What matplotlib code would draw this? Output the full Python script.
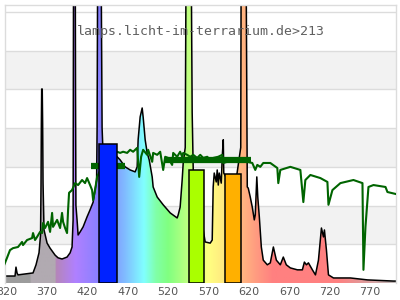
import numpy as np
import matplotlib
matplotlib.use("Agg")
import matplotlib.pyplot as plt
from matplotlib.colors import to_rgb

# lamp spectrum (black outline), wavelength in nm / relative value
spec_wl = [318, 330.4, 331.6, 332.9, 334.1, 352.7, 356.4, 360.1, 362.0, 362.6,
           363.0, 363.4, 364.1, 364.6, 365.1, 366.3, 370.1, 373.8, 380.0, 383.7,
           388.6, 394.8, 398.6, 401.0, 402.3, 402.6, 403.0, 404.8, 405.3, 405.8,
           407.2, 408.5, 411.0, 414.7, 419.6, 423.3, 427.1, 429.5, 431.4, 432.0,
           433.0, 436.5, 438.2, 440.0, 450.0, 456.8, 460.5, 466.7, 472.9, 479.1,
           481.6, 482.8, 485.3, 487.8, 489.0, 491.5, 494.0, 496.5, 500.2, 501.4,
           506.4, 513.8, 522.5, 531.1, 532.4, 534.8, 537.3, 538.6, 541.1, 542.5,
           548.0, 549.7, 551.0, 565.8, 572.0, 574.5, 575.7, 577.0, 579.5, 580.7,
           582.0, 583.2, 585.7, 586.9, 588.2, 588.8, 595.0, 605.0, 609.8, 610.5,
           616.0, 617.3, 617.9, 619.1, 621.6, 624.1, 626.6, 627.8, 629.7, 630.9,
           632.8, 635.3, 637.7, 642.7, 646.4, 650.2, 653.9, 658.8, 662.5, 666.2,
           671.2, 679.9, 686.1, 688.6, 691.1, 693.6, 698.5, 702.3, 706.0, 709.7,
           712.2, 713.4, 715.9, 718.4, 724.6, 745.6, 766.7, 798.9, 802.6]
spec_val = [0.18, 0.18, 0.41, 0.26, 0.21, 0.26, 0.47, 0.78, 1.24, 2.58,
            4.11, 5.01, 5.01, 4.11, 2.58, 1.37, 1.03, 0.90, 0.72, 0.65,
            0.62, 0.67, 0.78, 0.93, 1.63, 5.5, 10, 10, 5.0, 2.0,
            1.63, 1.24, 1.32, 1.45, 1.71, 1.89, 2.09, 2.40, 2.66, 4.0,
            10, 10, 4.0, 3.0, 3.1, 3.26, 3.18, 3.00, 2.92, 2.87,
            3.00, 3.70, 4.29, 4.52, 4.29, 3.70, 3.36, 3.18, 2.74, 2.48,
            2.22, 2.02, 1.81, 1.68, 1.76, 1.96, 2.66, 3.10, 3.5, 10,
            10, 4.4, 2.92, 1.06, 1.03, 1.11, 2.48, 2.84, 2.61, 2.92,
            2.53, 2.84, 2.58, 3.26, 3.70, 2.84, 2.6, 2.8, 3.5, 10,
            10, 4.9, 2.48, 2.45, 2.22, 1.96, 1.63, 1.76, 2.74, 2.22,
            1.71, 0.93, 0.59, 0.47, 0.52, 0.93, 0.59, 0.47, 0.67, 0.47,
            0.39, 0.34, 0.34, 0.54, 0.47, 0.52, 0.34, 0.21, 0.59, 1.42,
            1.19, 1.37, 0.85, 0.21, 0.13, 0.13, 0.08, 0.05, 0.05]

# sunlight reference (green line)
sun_wl = [311.8, 315.5, 320.5, 324.2, 327.9, 334.1, 339.1, 340.3, 345.3, 351.5,
          352.7, 355.2, 357.7, 361.4, 363.9, 365.1, 367.6, 371.3, 373.8, 376.3,
          377.5, 382.5, 386.2, 388.6, 389.9, 392.4, 394.8, 396.1, 397.3, 401.0,
          404.8, 408.5, 413.4, 417.1, 419.6, 423.3, 425.8, 427.1, 429.5, 432.0,
          441.9, 450.6, 456.8, 460.5, 464.2, 469.2, 472.9, 476.6, 481.6, 484.1,
          486.5, 489.0, 494.0, 495.2, 500.2, 501.4, 506.4, 510.1, 513.8, 516.3,
          520.0, 524.9, 526.2, 531.1, 534.8, 537.3, 538.6, 543.5, 547.3, 551.0,
          555.9, 559.7, 563.4, 568.3, 572.0, 575.7, 581.9, 586.9, 588.2, 593.1,
          600.5, 609.2, 617.9, 624.1, 627.8, 630.3, 634.0, 637.7, 642.7, 646.4,
          655.1, 656.3, 658.8, 671.2, 683.6, 687.3, 689.8, 696.0, 708.4, 717.1,
          718.4, 723.3, 733.2, 749.3, 760.5, 761.7, 764.2, 767.9, 774.1, 789.0,
          791.4, 807.5]
sun_val = [0.26, 0.39, 0.65, 0.85, 0.90, 0.93, 1.06, 0.98, 1.11, 1.16,
           1.29, 1.11, 1.19, 1.32, 1.29, 1.55, 1.42, 1.58, 1.32, 1.81,
           1.45, 1.63, 1.42, 1.81, 1.58, 1.42, 1.29, 1.89, 2.33, 2.40,
           2.58, 2.53, 2.66, 2.58, 2.71, 2.53, 2.40, 2.14, 2.40, 2.74,
           3.18, 3.31, 3.39, 3.36, 3.39, 3.36, 3.44, 3.39, 3.49, 2.74,
           3.26, 3.44, 3.31, 3.44, 3.13, 3.36, 3.31, 3.39, 2.92, 3.26,
           3.23, 3.05, 3.36, 3.26, 3.39, 3.26, 3.36, 3.31, 3.26, 3.31,
           3.23, 3.31, 3.23, 3.26, 3.18, 3.23, 3.26, 3.31, 3.10, 3.13,
           3.13, 3.13, 3.13, 3.10, 2.92, 3.05, 3.00, 3.10, 3.10, 3.10,
           2.97, 2.58, 2.92, 3.00, 2.92, 2.09, 2.66, 2.79, 2.71, 2.61,
           2.02, 2.40, 2.58, 2.66, 2.58, 0.34, 1.45, 2.48, 2.53, 2.48,
           2.35, 2.27]

# thick green band averages
avg_start = [424.6, 516.0]
avg_end = [466.2, 622.0]
avg_val = [3.02, 3.18]

# colored band bars
bar_start = [434.9, 545.2, 590.2]
bar_end = [456.4, 564.6, 609.6]
bar_val = [3.59, 2.92, 2.82]
bar_colors = ["#0022ff", "#aaff00", "#ffb000"]

tick_wl = [320, 370, 420, 470, 520, 570, 620, 670, 720, 770]
label = "lamps.licht-im-terrarium.de>213"

# fill gradient stops (wavelength -> pale spectral colour)
grad_wl = [318, 349, 350, 380, 381, 405, 440, 465, 490, 505, 520, 545,
           570, 590, 605, 630, 650, 730, 780, 805]
grad_col = ["#9c9c9c", "#9c9c9c", "#b1aab1", "#b1aab1", "#b586b8", "#b080ff",
            "#8080ff", "#80b8ff", "#80ffff", "#80ffa8", "#80ff80", "#c0ff80",
            "#ffff80", "#ffe880", "#ffc080", "#ff9a80", "#ff8080", "#ff8080",
            "#d0a8a8", "#b8b8b8"]

XMIN, XMAX = 318, 802
YMAX = 7.18

fig = plt.figure(figsize=(4, 3), dpi=100)
ax = fig.add_axes([5 / 400, 17 / 300, 391 / 400, 278 / 300])
ax.set_xlim(XMIN, XMAX)
ax.set_ylim(0, YMAX)

# alternating background bands + grid lines
for k in range(1, 7, 2):
    ax.axhspan(k, k + 1, color="#f2f2f2", zorder=0, lw=0)
for k in range(1, 8):
    ax.axhline(k, color="#dcdcdc", lw=1.0, zorder=0.5)

# gradient fill under the lamp spectrum
xs = np.linspace(XMIN, XMAX, 800)
rgb = np.array([to_rgb(c) for c in grad_col])
img = np.stack([np.interp(xs, grad_wl, rgb[:, i]) for i in range(3)], axis=-1)
img = img[np.newaxis, :, :]
poly = ax.fill_between(spec_wl, 0, spec_val, facecolor="none", lw=0, zorder=1)
im = ax.imshow(img, extent=[XMIN, XMAX, 0, 12], aspect="auto",
               interpolation="bilinear", zorder=1)
im.set_clip_path(poly.get_paths()[0], transform=ax.transData)
ax.plot(spec_wl, spec_val, color="black", lw=1.1, zorder=2)

# sunlight reference
ax.plot(sun_wl, sun_val, color="#006400", lw=1.5, zorder=3)
for s, e, v in zip(avg_start, avg_end, avg_val):
    ax.plot([s, e], [v, v], color="#006400", lw=4.5, solid_capstyle="butt", zorder=3)

# bars
for s, e, v, c in zip(bar_start, bar_end, bar_val, bar_colors):
    ax.bar(s, v, width=e - s, align="edge", color=c, edgecolor="black",
           lw=1.1, zorder=4)

ax.text(0.5, (283 - 32) / 278, label, transform=ax.transAxes, ha="center",
        va="center", family="DejaVu Sans Mono", fontsize=9.5, color="#606060",
        zorder=5)

ax.set_xticks(tick_wl)
ax.set_xticklabels([str(t) for t in tick_wl])
ax.set_yticks([])
ax.tick_params(axis="x", length=0, pad=3, labelsize=8, labelcolor="#555555")
for side in ["left", "right", "top", "bottom"]:
    ax.spines[side].set_color("#dcdcdc")
    ax.spines[side].set_linewidth(1.0)
ax.spines["bottom"].set_visible(False)

fig.savefig("out.png", dpi=100)
